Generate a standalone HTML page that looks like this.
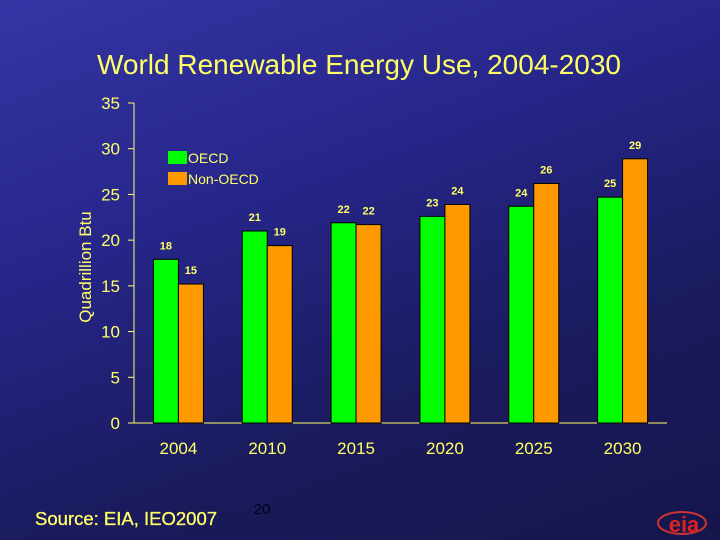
<!DOCTYPE html>
<html><head><meta charset="utf-8"><style>
html,body{margin:0;padding:0}
body{width:720px;height:540px;overflow:hidden;background:linear-gradient(160deg,#3535a5 0%,#26268a 35%,#1a1a5c 70%,#16164c 100%);font-family:"Liberation Sans",sans-serif}
svg{position:absolute;left:0;top:0}
</style></head><body>
<svg id="chart" width="720" height="540">
<text x="359" y="74" fill="#ffff66" font-size="28" text-anchor="middle">World Renewable Energy Use, 2004-2030</text>
<text transform="translate(91,267) rotate(-90)" fill="#ffff66" font-size="17" text-anchor="middle">Quadrillion Btu</text>
<g id="axes"></g><g id="bars"></g>
<rect x="168" y="151" width="19" height="13" fill="#00ff00"/>
<text x="188" y="163" fill="#ffff66" font-size="14">OECD</text>
<rect x="168" y="172" width="19" height="13" fill="#ff9900"/>
<text x="188" y="184" fill="#ffff66" font-size="14">Non-OECD</text>
<text x="35" y="525" fill="#ffff66" font-size="18.5" stroke="#ffff66" stroke-width="0.3">Source:  EIA, IEO2007</text>
<text x="262" y="514" fill="#000018" font-size="15" text-anchor="middle">20</text>
<g>
<ellipse cx="682" cy="523" rx="24" ry="11" fill="none" stroke="#cc3333" stroke-width="2"/>
<text x="684" y="532" fill="#dd2222" font-size="22" font-weight="bold" text-anchor="middle">eia</text>
</g>
</svg>
<script>
const categories=["2004","2010","2015","2020","2025","2030"];
const oecd=[17.9,21.0,21.9,22.6,23.7,24.7];
const nonOecd=[15.2,19.4,21.7,23.9,26.2,28.9];
const oecdLabels=["18","21","22","23","24","25"];
const nonOecdLabels=["15","19","22","24","26","29"];
const yTicks=[0,5,10,15,20,25,30,35];
const NS="http://www.w3.org/2000/svg";
const x0=134,x1=667,y0=423,yTop=103,yMax=35;
const y=v=>y0-(v/yMax)*(y0-yTop);
const bw=(x1-x0)/categories.length;
const cx=i=>x0+bw*(i+0.5);
function mk(t,a,p){const e=document.createElementNS(NS,t);for(const k in a)e.setAttribute(k,a[k]);p.appendChild(e);return e;}
const ax=document.getElementById('axes'),bars=document.getElementById('bars');
let l=mk('line',{x1:x0,y1:yTop,x2:x0,y2:y0,stroke:'#ffff66','stroke-width':1},ax);


l=mk('line',{x1:x0,y1:y0,x2:x1,y2:y0,stroke:'#ffff66','stroke-width':1},ax);


yTicks.forEach(v=>{
 const t=mk('line',{x1:x0-6,y1:y(v),x2:x0,y2:y(v),stroke:'#ffff66'},ax);
 
 
 const tx=mk('text',{x:120,y:y(v)+6,fill:'#ffff66','font-size':17,'text-anchor':'end'},ax);
 tx.textContent=v;
 
 
});
categories.forEach((c,i)=>{
 const tx=mk('text',{x:cx(i),y:454,fill:'#ffff66','font-size':17,'text-anchor':'middle'},ax);
 tx.textContent=c;
 
 
 [[oecd,oecdLabels,'#00ff00',-25,'oecd'],[nonOecd,nonOecdLabels,'#ff9900',0,'non-oecd']].forEach(([d,lb,col,off,n])=>{
  const r=mk('rect',{x:cx(i)+off,y:y(d[i]),width:25,height:y0-y(d[i]),fill:col,stroke:'#000','stroke-width':1},bars);
  
  
  const t=mk('text',{x:cx(i)+off+12.5,y:y(d[i])-10,fill:'#ffff66','font-size':11,'font-weight':'bold','text-anchor':'middle'},bars);
  t.textContent=lb[i];
  
  
 });
});
</script>
</body></html>
